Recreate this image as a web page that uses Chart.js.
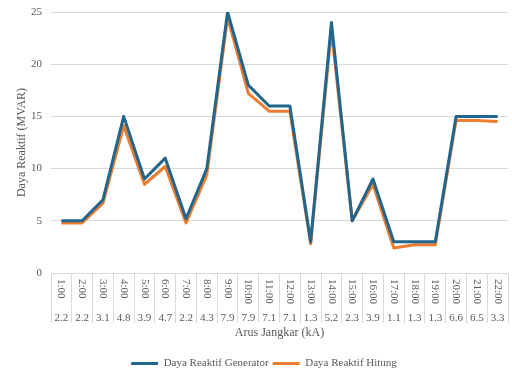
<!DOCTYPE html>
<html>
<head>
<meta charset="utf-8">
<script src="https://cdn.jsdelivr.net/npm/chart.js@4"></script>
<style>
  html, body { margin: 0; padding: 0; background: #fff; }
  #wrap { width: 512px; height: 371px; }
</style>
</head>
<body>
<div id="wrap"><canvas id="chart" width="512" height="371"></canvas></div>
<script>
const jam = ['1:00','2:00','3:00','4:00','5:00','6:00','7:00','8:00','9:00','10:00','11:00',
             '12:00','13:00','14:00','15:00','16:00','17:00','18:00','19:00','20:00','21:00','22:00'];
const arusJangkar = ['2.2','2.2','3.1','4.8','3.9','4.7','2.2','4.3','7.9','7.9','7.1',
                     '7.1','1.3','5.2','2.3','3.9','1.1','1.3','1.3','6.6','6.5','3.3'];
const dayaGenerator = [5, 5, 7, 15, 9, 11, 5.2, 10, 25, 18, 16, 16, 3, 24, 5, 9, 3, 3, 3, 15, 15, 15];
const dayaHitung = [4.8, 4.8, 6.7, 14.1, 8.5, 10.2, 4.8, 9.4, 24.5, 17.2, 15.5, 15.5, 2.8, 23.3, 5, 8.5, 2.4, 2.7, 2.7, 14.6, 14.6, 14.5];
const yTicks = [0, 5, 10, 15, 20, 25];

const serif = 'Liberation Serif';
const textColor = '#595959';
const gridColor = '#d9d9d9';

// jam labels drawn vertically (top to bottom) inside the axis table
const jamLabels = {
    id: 'jamLabels',
    afterDraw(chart) {
        const ctx = chart.ctx;
        const x = chart.scales.x;
        ctx.save();
        ctx.font = '11px "' + serif + '"';
        ctx.fillStyle = textColor;
        ctx.textAlign = 'left';
        ctx.textBaseline = 'middle';
        jam.forEach((t, i) => {
            ctx.save();
            ctx.translate(x.getPixelForValue(i), x.top + 6);
            ctx.rotate(Math.PI / 2);
            ctx.fillText(t, 0, 0);
            ctx.restore();
        });
        ctx.restore();
    }
};

new Chart(document.getElementById('chart'), {
    type: 'line',
    data: {
        labels: jam,
        datasets: [{
            label: 'Daya Reaktif Generator',
            data: dayaGenerator,
            borderColor: '#22668c',
            backgroundColor: '#22668c',
            borderWidth: 3,
            borderJoinStyle: 'round',
            pointRadius: 0,
            tension: 0
        }, {
            label: 'Daya Reaktif Hitung',
            data: dayaHitung,
            borderColor: '#ed7d31',
            backgroundColor: '#ed7d31',
            borderWidth: 3,
            borderJoinStyle: 'round',
            pointRadius: 0,
            tension: 0
        }]
    },
    options: {
        responsive: false,
        animation: false,
        layout: { padding: { top: 0, right: 4, left: 20, bottom: -8 } },
        plugins: {
            tooltip: { enabled: false },
            legend: {
                position: 'bottom',
                labels: {
                    usePointStyle: true,
                    pointStyle: 'line',
                    pointStyleWidth: 27,
                    color: textColor,
                    font: { family: serif, size: 11 },
                    padding: 4
                }
            }
        },
        scales: {
            x: {
                offset: true,
                border: { color: gridColor },
                grid: {
                    offset: true,
                    drawOnChartArea: false,
                    drawTicks: true,
                    tickLength: 50,
                    color: gridColor
                },
                ticks: {
                    autoSkip: false,
                    maxRotation: 0,
                    minRotation: 0,
                    padding: -11,
                    color: textColor,
                    font: { family: serif, size: 11 },
                    callback: (v, i) => arusJangkar[i]
                },
                title: {
                    display: true,
                    text: 'Arus Jangkar (kA)',
                    color: textColor,
                    font: { family: serif, size: 12 },
                    padding: { top: 0, bottom: 14 }
                },
                afterFit: (s) => { s.height = 81; }
            },
            y: {
                min: 0,
                max: 25,
                afterBuildTicks: (s) => { s.ticks = yTicks.map(v => ({ value: v })); },
                border: { display: false },
                grid: { color: gridColor, drawTicks: false },
                ticks: {
                    padding: 9,
                    color: textColor,
                    font: { family: serif, size: 11 }
                },
                title: {
                    display: true,
                    text: 'Daya Reaktif (MVAR)',
                    color: textColor,
                    font: { family: serif, size: 12 },
                    padding: { top: -5, bottom: 0 }
                },
                afterFit: (s) => {
                    s.width = 31;
                    s.paddingTop = 12;
                }
            }
        }
    },
    plugins: [jamLabels]
});
</script>
</body>
</html>
